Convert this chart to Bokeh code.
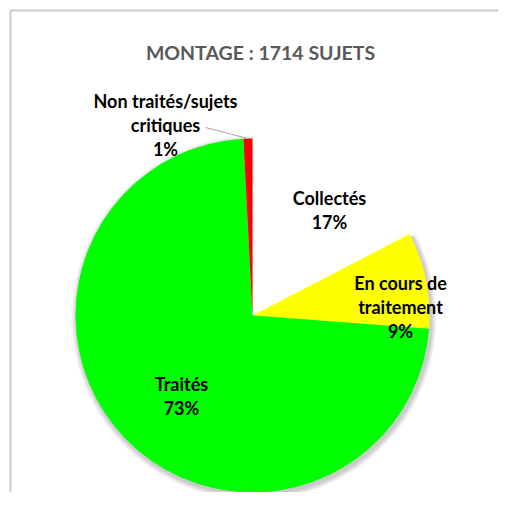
import numpy as np
from bokeh.plotting import figure
from bokeh.models import Range1d, ColumnDataSource
from bokeh.embed import file_html
from bokeh.resources import INLINE
from bokeh.core.properties import value

# ---------------- data ----------------
chart_title = "MONTAGE : 1714 SUJETS"
categories = ["Collectés", "En cours de traitement", "Traités", "Non traités/sujets critiques"]
counts = [298, 151, 1251, 14]
pct_labels = ["17%", "9%", "73%", "1%"]
label_lines = [["Collectés"], ["En cours de", "traitement"], ["Traités"], ["Non traités/sujets", "critiques"]]
colors = ["#FFFFFF", "#FFFF00", "#00FF00", "#FF0000"]

# ---------------- layout (pixel-like coordinates, y up) ----------------
W, H = 498, 492
IMG_H = 508
def Y(y_img):
    return IMG_H - y_img

cx, cy, R = 252, Y(315), 177
FONT = "Lato"

p = figure(width=W, height=H, x_range=Range1d(0, W), y_range=Range1d(IMG_H - H, IMG_H),
           output_backend="svg", toolbar_location=None, min_border=0,
           x_axis_location=None, y_axis_location=None)
p.grid.visible = False
p.outline_line_color = None
p.background_fill_color = "white"
p.border_fill_color = "white"

# chart border (only the top and left edges are within the window)
p.line([10, 10, W], [IMG_H - H, Y(10), Y(10)], line_color="#CCCCCC", line_width=2)

# wedges, clockwise from 12 o'clock
vals = np.array(counts, dtype=float)
frac = vals / vals.sum()
cum_end = np.cumsum(frac)
cum_start = cum_end - frac
start_angle = np.pi / 2 - 2 * np.pi * cum_end
end_angle = np.pi / 2 - 2 * np.pi * cum_start

# soft shadow behind the filled slices (the first slice has no fill)
for i in range(6, 0, -1):
    p.wedge(x=cx + 1.5, y=cy - 2.5, radius=R + i * 0.9, start_angle=start_angle[-1],
            end_angle=end_angle[1], fill_color="black", fill_alpha=0.035, line_color=None)

src = ColumnDataSource(dict(start=start_angle, end=end_angle, color=colors, cat=categories))
p.wedge(x=cx, y=cy, radius=R, start_angle="start", end_angle="end", fill_color="color",
        line_color=None, source=src)

# title
p.text(x=[260], y=[Y(51.5)], text=[chart_title], text_font=value(FONT), text_font_style="bold",
       text_font_size="19.5px", text_color="#595959", text_align="center", text_baseline="alphabetic")

# data labels (position per slice: anchor x, first baseline y)
label_pos = [(329, 197.5), (400, 282), (181, 383.5), (165, 100.5)]
line_gap = 24
for lines, pct, (lx, ly) in zip(label_lines, pct_labels, label_pos):
    all_lines = lines + [pct]
    xs = [lx] * len(all_lines)
    ys = [Y(ly + k * line_gap) for k in range(len(all_lines))]
    p.text(x=xs, y=ys, text=all_lines, text_font=value(FONT), text_font_style="bold",
           text_font_size="18px", text_color="black", text_align="center", text_baseline="alphabetic")

# leader line for the smallest slice
mid = 2 * np.pi * (cum_start[3] + cum_end[3]) / 2
ex, ey = cx + R * np.sin(mid), cy + R * np.cos(mid)
p.line([205, ex], [Y(127), ey], line_color="#A6A6A6", line_width=1)

open("out.html", "w").write(file_html(p, INLINE))
